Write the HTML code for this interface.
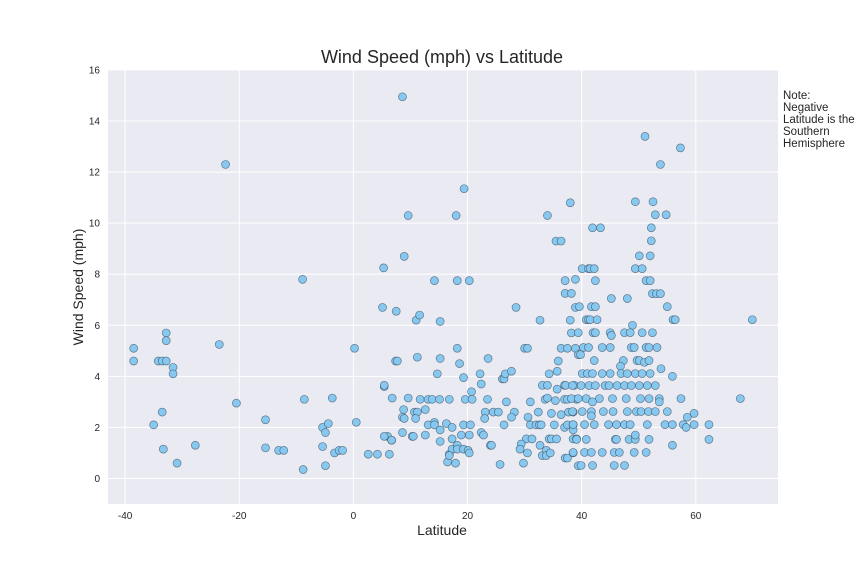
<!DOCTYPE html>
<html><head><meta charset="utf-8"><style>
body{margin:0;background:#fff;font-family:"Liberation Sans",sans-serif}
svg text{font-family:"Liberation Sans",sans-serif}
</style></head><body>
<svg id="chart" width="864" height="576" xmlns="http://www.w3.org/2000/svg">
<rect x="108" y="70" width="670" height="434" fill="#EAEAF2"/>
<g id="grid"></g>
<g id="ticks"></g>
<g id="pts"></g>
<text x="442" y="63" text-anchor="middle" font-size="18" fill="#262626">Wind Speed (mph) vs Latitude</text>
<text x="442" y="535" text-anchor="middle" font-size="14" fill="#262626">Latitude</text>
<text transform="translate(83,287) rotate(-90)" text-anchor="middle" font-size="14" fill="#262626">Wind Speed (mph)</text>
<g font-size="11.5" fill="#262626">
<text x="783" y="99">Note:</text><text x="783" y="111">Negative</text><text x="783" y="123">Latitude is the</text><text x="783" y="135">Southern</text><text x="783" y="147">Hemisphere</text>
</g>
</svg>
<script>
const xTicks=[-40,-20,0,20,40,60];
const yTicks=[0,2,4,6,8,10,12,14,16];
const lat=[-38.5,-38.5,-34.2,-33.5,-32.8,-32.8,-32.8,-31.6,-31.6,-33.5,-35,-33.3,-30.9,-27.7,-22.4,-23.5,-20.5,-15.4,-15.4,-13.1,-12.2,-8.9,-8.6,-8.8,-5.4,-4.4,-4.9,-5.4,-4.9,-3.3,-2.5,-1.9,-3.7,0.5,0.2,2.6,4.2,6.3,5.3,5.1,5.4,6.0,6.7,7.5,7.4,7.7,6.8,
8.6,19.4,9.6,18.0,34.0,38.0,35.5,36.4,8.9,14.2,18.2,20.3,37.1,38.9,37.1,38.2,38.9,11.0,11.6,15.2,28.5,32.7,38.0,38.2,18.2,30,30.5,36.4,37.5,38.9,39.4,11.2,15.2,18.6,23.6,35.9,14.7,19.3,22.2,22.4,26.1,26.4,26.6,27.7,34.3,35.7,33.1,34,35.7,37,37.2,38.7,5.4,20.7,9.6,11.7,13.1,13.8,15.1,16.8,19.6,20.8,23.5,26.8,31.0,33.6,34,35.4,37,37.5,39.1,8.8,10.7,11.2,12.6,23.1,24.5,25.4,28.2,32.4,34.7,36.4,37.7,38.5,8.6,8.9,10.9,23,27.7,30.6,14.2,13.1,14.2,15.2,16.3,17.3,19.3,20.5,26.4,31,32,32.6,32.9,35.2,37,37.5,38.5,38.5,5.4,6.7,8.6,10.3,10.5,12.6,15.2,17.3,18.9,20.3,22.4,22.8,30.3,31.3,34.3,34.7,35.6,38.5,39.1,16.8,17.3,18.2,18.2,19.3,20.1,20.3,16.5,16.8,17.9,24,24.2,25.7,29.4,29.2,30.5,29.8,32.7,33.1,33.8,33.8,34.5,37.1,37.5,38.5,39.4,
51.1,57.3,53.8,49.4,52.5,52.9,54.8,41.9,43.3,52.2,52.2,50.1,52,40.1,41.2,41.5,42.2,49.4,50.6,42.4,51.3,52,45.2,48,52.4,53.1,53.8,39.6,41.7,42.4,55,40.8,41.2,41.5,42.7,56,56.4,69.9,48.9,39.4,42,42.4,45,45.2,47.5,48.5,50.6,52.4,40.3,41.2,43.6,45,48.7,49.2,51.3,51.8,53.2,39.8,42.2,47.3,49.7,50.1,51,51.8,53.9,55.9,46.8,40.1,41,41.9,43.6,45,46.9,48,49.4,50.6,52,38.4,39.9,41.3,42.4,44.1,44.8,46.2,47.5,48.7,50.1,51.5,52.9,38.2,39.4,40.8,43.1,45.4,47.8,50.3,51.8,53.6,57.4,41.9,67.8,38.4,40.1,41.7,43.8,45.5,48,49.6,50.4,51.7,52.9,55,41.7,53.6,59.7,58.5,38.5,40.5,42.2,44.7,46.1,47.5,48.5,51.5,54.6,55.9,57.8,58.3,59.7,62.3,39.1,40.8,45.9,46.1,48.3,49.4,51.8,49.4,55.9,62.3,38.5,40.5,41.7,43.6,45.7,46.6,49.2,51.3,39.9,41.9,45.7,47.5];
const wind=[5.1,4.6,4.6,4.6,4.6,5.7,5.4,4.35,4.1,2.6,2.1,1.15,0.6,1.3,12.3,5.25,2.95,2.3,1.2,1.1,1.1,7.8,3.1,0.35,2.0,2.15,1.8,1.25,0.5,1.0,1.1,1.1,3.15,2.2,5.1,0.95,0.95,0.95,8.25,6.7,3.6,1.65,1.5,6.55,4.6,4.6,3.15,
14.95,11.35,10.3,10.3,10.3,10.8,9.3,9.3,8.7,7.75,7.75,7.75,7.75,7.8,7.25,7.25,6.7,6.2,6.4,6.15,6.7,6.2,6.2,5.7,5.1,5.1,5.1,5.1,5.1,5.1,4.85,4.75,4.7,4.5,4.7,4.6,4.1,3.95,4.1,3.7,3.9,3.9,4.1,4.2,4.1,4.2,3.65,3.65,3.5,3.65,3.65,3.65,3.65,3.4,3.15,3.1,3.1,3.1,3.1,3.1,3.1,3.1,3.1,3.0,3.0,3.1,3.15,3.05,3.1,3.1,3.1,2.7,2.6,2.6,2.7,2.6,2.6,2.6,2.6,2.6,2.55,2.5,2.6,2.6,2.4,2.35,2.35,2.35,2.4,2.4,2.2,2.1,2.1,1.9,2.15,2.0,2.1,2.1,2.1,2.1,2.1,2.1,2.1,2.1,2.0,2.1,2.1,1.9,1.65,1.5,1.8,1.65,1.65,1.7,1.45,1.55,1.7,1.7,1.8,1.7,1.55,1.55,1.55,1.55,1.55,1.55,1.55,0.95,1.15,1.3,1.15,1.15,1.1,1.0,0.65,0.9,0.6,1.3,1.3,0.55,1.35,1.15,1.0,0.6,1.3,0.9,1.1,0.9,1.0,0.8,0.8,1.0,0.5,
13.4,12.95,12.3,10.84,10.84,10.33,10.33,9.82,9.82,9.82,9.31,8.72,8.72,8.22,8.22,8.22,8.22,8.22,8.22,7.75,7.75,7.75,7.05,7.05,7.24,7.24,7.24,6.73,6.73,6.73,6.73,6.22,6.22,6.22,6.22,6.22,6.22,6.22,6.0,5.71,5.71,5.71,5.71,5.6,5.71,5.71,5.71,5.71,5.13,5.13,5.13,5.13,5.13,5.13,5.13,5.13,5.13,4.85,4.62,4.62,4.62,4.62,4.55,4.62,4.3,4.0,4.4,4.11,4.11,4.11,4.11,4.11,4.11,4.11,4.11,4.11,4.11,3.64,3.64,3.64,3.64,3.64,3.64,3.64,3.64,3.64,3.64,3.64,3.64,3.13,3.13,3.13,3.13,3.13,3.13,3.13,3.13,3.13,3.13,3.0,3.13,2.62,2.62,2.62,2.62,2.62,2.62,2.62,2.62,2.62,2.62,2.62,2.45,3.0,2.55,2.4,2.11,2.11,2.11,2.11,2.11,2.11,2.11,2.11,2.11,2.11,2.11,2.0,2.11,2.11,1.53,1.53,1.53,1.53,1.53,1.53,1.53,1.7,1.3,1.53,1.02,1.02,1.02,1.02,1.02,1.02,1.02,1.02,0.51,0.51,0.51,0.51];
const L=108,T=70,W=670,H=434,xmin=-43,xmax=74.4,ymin=-1,ymax=16;
const sx=v=>L+(v-xmin)/(xmax-xmin)*W;
const sy=v=>T+(ymax-v)/(ymax-ymin)*H;
const NS='http://www.w3.org/2000/svg';
const g=document.getElementById('grid'),tk=document.getElementById('ticks'),pg=document.getElementById('pts');
function mk(tag,attrs){const e=document.createElementNS(NS,tag);for(const k in attrs)e.setAttribute(k,attrs[k]);return e;}
xTicks.forEach(t=>{const x=sx(t);
const l=mk('line',{x1:x,x2:x,y1:T,y2:T+H,stroke:'#fff','stroke-width':1});

g.appendChild(l);
const s=mk('text',{x:x,y:T+H+15,'text-anchor':'middle','font-size':10,fill:'#262626'});s.textContent=t;

tk.appendChild(s);});
yTicks.forEach(t=>{const y=sy(t);
const l=mk('line',{x1:L,x2:L+W,y1:y,y2:y,stroke:'#fff','stroke-width':1});

g.appendChild(l);
const s=mk('text',{x:L-8,y:y+3.5,'text-anchor':'end','font-size':10,fill:'#262626'});s.textContent=t;

tk.appendChild(s);});
const n=Math.min(lat.length,wind.length);
for(let i=0;i<n;i++){const c=mk('circle',{cx:sx(lat[i]),cy:sy(wind[i]),r:4,fill:'#87C8F0',stroke:'#2a3a4a','stroke-opacity':0.6,'stroke-width':0.7});

pg.appendChild(c);}
</script>
</body></html>
